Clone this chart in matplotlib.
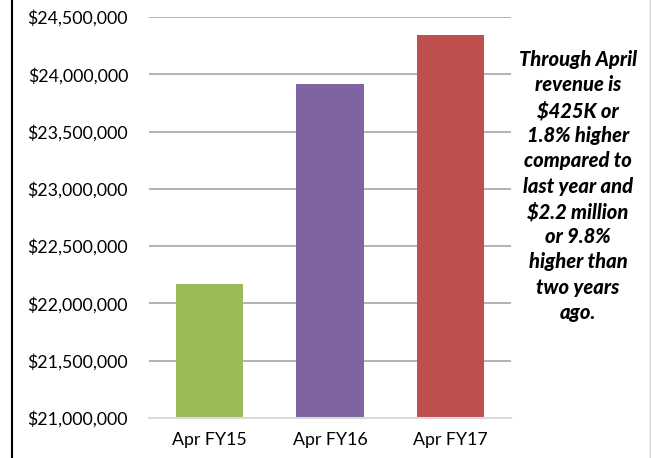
import matplotlib.pyplot as plt
from matplotlib.lines import Line2D
from matplotlib.ticker import FuncFormatter

categories = ["Apr FY15", "Apr FY16", "Apr FY17"]
revenue = [22170000, 23915000, 24340000]
colors = ["#9BBB59", "#8064A2", "#C0504D"]
note = ("Through April\nrevenue is\n$425K or\n1.8% higher\ncompared to\n"
        "last year and\n$2.2 million\nor 9.8%\nhigher than\ntwo years\nago.")

plt.rcParams['font.family'] = ['Lato', 'DejaVu Sans']

fig = plt.figure(figsize=(6.51, 4.58), dpi=100)
ax = fig.add_axes([149 / 651, 40 / 458, 362 / 651, 401 / 458])

ax.bar(categories, revenue, width=0.56, color=colors, zorder=3)
ax.set_xlim(-0.5, 2.5)
ax.set_ylim(21000000, 24500000)
ax.set_yticks(range(21000000, 24500001, 500000))
ax.yaxis.set_major_formatter(FuncFormatter(lambda v, p: "${:,.0f}".format(v)))
ax.grid(axis='y', color="#A6A6A6", linewidth=1.2, zorder=0)
ax.tick_params(length=0, labelsize=12.8, colors="#000000")
ax.tick_params(axis='y', pad=15)
ax.tick_params(axis='x', pad=10)
for s in ["top", "right", "left"]:
    ax.spines[s].set_visible(False)
ax.spines["bottom"].set_color("#D9D9D9")
ax.spines["bottom"].set_linewidth(1.5)
ax.spines["bottom"].set_zorder(4)

fig.text(578 / 651, 1 - 186 / 458, note, ha='center', va='center',
         fontsize=14.5, fontweight='black', fontstyle='italic', linespacing=1.38)

fig.add_artist(Line2D([11.5 / 651, 11.5 / 651], [0, 1], color="black", linewidth=1.5))
fig.add_artist(Line2D([649.5 / 651, 649.5 / 651], [0, 1], color="#D0D0D0", linewidth=1))

fig.savefig("out.png", dpi=100)
